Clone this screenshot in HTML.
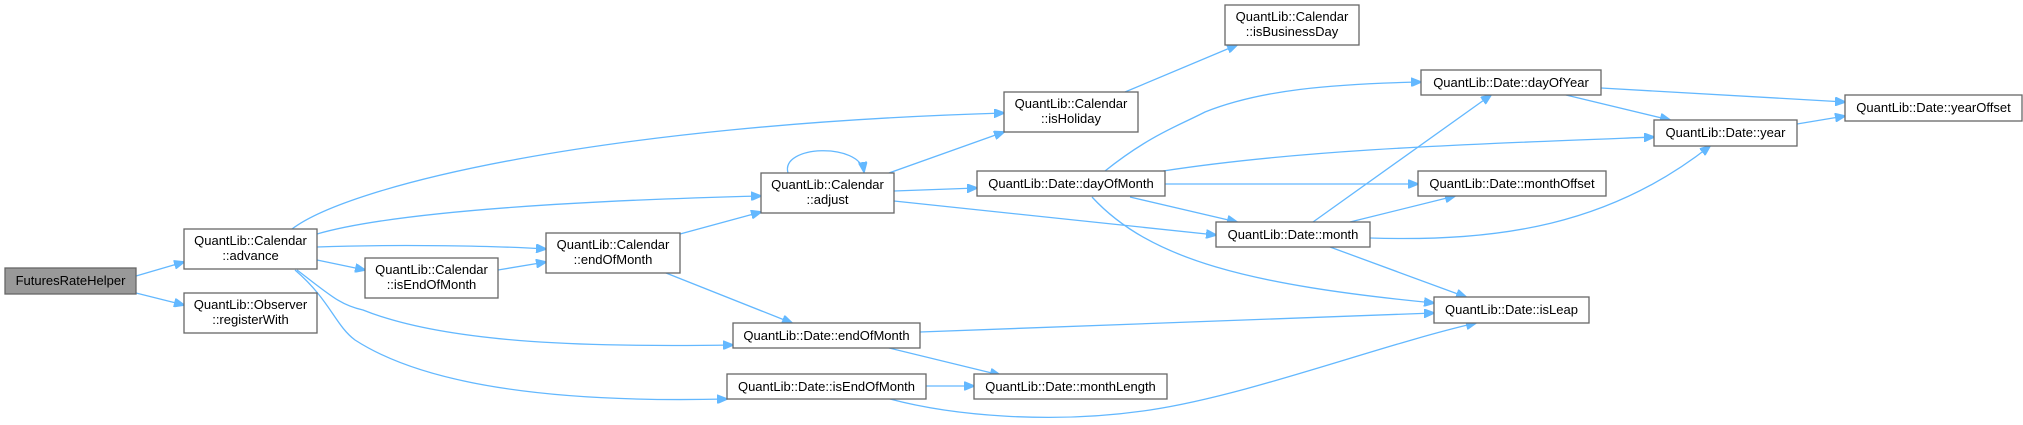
<!DOCTYPE html>
<html><head><meta charset="utf-8"><style>
html,body{margin:0;padding:0;background:#fff;}
svg{display:block;}
text{font-family:"Liberation Sans",Arial,sans-serif;font-size:13px;fill:#000;}
.n{fill:#fff;stroke:#666;stroke-width:1.3;}
.e{fill:none;stroke:#63b8ff;stroke-width:1.3;}
</style></head><body>
<svg width="2023" height="425" viewBox="0 0 2023 425" xmlns="http://www.w3.org/2000/svg">
<defs><marker id="a" markerWidth="11" markerHeight="9" refX="10" refY="4.5" orient="auto" markerUnits="userSpaceOnUse"><path d="M0,0 L11,4.5 L0,9 z" fill="#63b8ff" stroke="#63b8ff"/></marker></defs>
<g class="e">
<path d="M136,276 L184,262" marker-end="url(#a)"/>
<path d="M136,293 L184,305" marker-end="url(#a)"/>
<path d="M292,229 C350,185 600,125 1004,113" marker-end="url(#a)"/>
<path d="M317,234 C400,210 600,200 761,196" marker-end="url(#a)"/>
<path d="M317,247 C400,244 500,246 546,249" marker-end="url(#a)"/>
<path d="M317,260 L365,270" marker-end="url(#a)"/>
<path d="M297,270 C330,295 340,305 363,310 C450,345 600,347 733,345" marker-end="url(#a)"/>
<path d="M295,270 C330,300 335,325 355,340 C440,395 600,402 727,399" marker-end="url(#a)"/>
<path d="M498,270 L546,262" marker-end="url(#a)"/>
<path d="M680,234 L761,212" marker-end="url(#a)"/>
<path d="M666,273 L792,323" marker-end="url(#a)"/>
<path d="M788,173 C780,145 860,142 864,172" marker-end="url(#a)"/>
<path d="M889,173 L1004,132" marker-end="url(#a)"/>
<path d="M894,191 L977,188" marker-end="url(#a)"/>
<path d="M894,201 L1216,235" marker-end="url(#a)"/>
<path d="M1125,92 L1237,45" marker-end="url(#a)"/>
<path d="M1105,171 C1150,135 1180,125 1205,112 C1260,90 1330,84 1421,82" marker-end="url(#a)"/>
<path d="M1163,171 C1300,150 1450,145 1654,137" marker-end="url(#a)"/>
<path d="M1165,184 L1418,184" marker-end="url(#a)"/>
<path d="M1130,197 L1237,222" marker-end="url(#a)"/>
<path d="M1092,197 C1150,260 1250,285 1434,303" marker-end="url(#a)"/>
<path d="M1313,222 L1491,95" marker-end="url(#a)"/>
<path d="M1350,222 L1455,196" marker-end="url(#a)"/>
<path d="M1370,238 C1500,242 1610,225 1710,146" marker-end="url(#a)"/>
<path d="M1330,247 L1466,297" marker-end="url(#a)"/>
<path d="M1601,88 L1845,102" marker-end="url(#a)"/>
<path d="M1566,95 L1670,120" marker-end="url(#a)"/>
<path d="M1797,124 L1845,116" marker-end="url(#a)"/>
<path d="M920,332 L1434,313" marker-end="url(#a)"/>
<path d="M889,348 L1000,375" marker-end="url(#a)"/>
<path d="M926,386 L974,386" marker-end="url(#a)"/>
<path d="M890,399 C950,415 1050,425 1150,410 C1250,395 1380,345 1476,323" marker-end="url(#a)"/>
</g>
<rect x="5" y="268" width="131" height="26" fill="#999" stroke="#666" stroke-width="1.3"/>
<text x="70.5" y="285" text-anchor="middle">FuturesRateHelper</text>
<g>
<rect class="n" x="184" y="229" width="133" height="40"/><text x="250.5" y="245" text-anchor="middle">QuantLib::Calendar</text><text x="250.5" y="260" text-anchor="middle">::advance</text>
<rect class="n" x="184" y="293" width="133" height="40"/><text x="250.5" y="309" text-anchor="middle">QuantLib::Observer</text><text x="250.5" y="324" text-anchor="middle">::registerWith</text>
<rect class="n" x="365" y="258" width="133" height="40"/><text x="431.5" y="274" text-anchor="middle">QuantLib::Calendar</text><text x="431.5" y="289" text-anchor="middle">::isEndOfMonth</text>
<rect class="n" x="546" y="233" width="134" height="40"/><text x="613" y="249" text-anchor="middle">QuantLib::Calendar</text><text x="613" y="264" text-anchor="middle">::endOfMonth</text>
<rect class="n" x="761" y="173" width="133" height="40"/><text x="827.5" y="189" text-anchor="middle">QuantLib::Calendar</text><text x="827.5" y="204" text-anchor="middle">::adjust</text>
<rect class="n" x="1004" y="92" width="134" height="40"/><text x="1071" y="108" text-anchor="middle">QuantLib::Calendar</text><text x="1071" y="123" text-anchor="middle">::isHoliday</text>
<rect class="n" x="1225" y="5" width="134" height="40"/><text x="1292" y="21" text-anchor="middle">QuantLib::Calendar</text><text x="1292" y="36" text-anchor="middle">::isBusinessDay</text>
<rect class="n" x="733" y="323" width="187" height="25"/><text x="826.5" y="340" text-anchor="middle">QuantLib::Date::endOfMonth</text>
<rect class="n" x="727" y="374" width="199" height="25"/><text x="826.5" y="391" text-anchor="middle">QuantLib::Date::isEndOfMonth</text>
<rect class="n" x="977" y="171" width="188" height="25"/><text x="1071" y="188" text-anchor="middle">QuantLib::Date::dayOfMonth</text>
<rect class="n" x="974" y="374" width="193" height="25"/><text x="1070.5" y="391" text-anchor="middle">QuantLib::Date::monthLength</text>
<rect class="n" x="1216" y="222" width="154" height="25"/><text x="1293" y="239" text-anchor="middle">QuantLib::Date::month</text>
<rect class="n" x="1421" y="70" width="180" height="25"/><text x="1511" y="87" text-anchor="middle">QuantLib::Date::dayOfYear</text>
<rect class="n" x="1418" y="171" width="188" height="25"/><text x="1512" y="188" text-anchor="middle">QuantLib::Date::monthOffset</text>
<rect class="n" x="1434" y="297" width="155" height="26"/><text x="1511.5" y="314" text-anchor="middle">QuantLib::Date::isLeap</text>
<rect class="n" x="1654" y="120" width="143" height="26"/><text x="1725.5" y="137" text-anchor="middle">QuantLib::Date::year</text>
<rect class="n" x="1845" y="95" width="177" height="26"/><text x="1933.5" y="112" text-anchor="middle">QuantLib::Date::yearOffset</text>
</g>
</svg>
</body></html>
